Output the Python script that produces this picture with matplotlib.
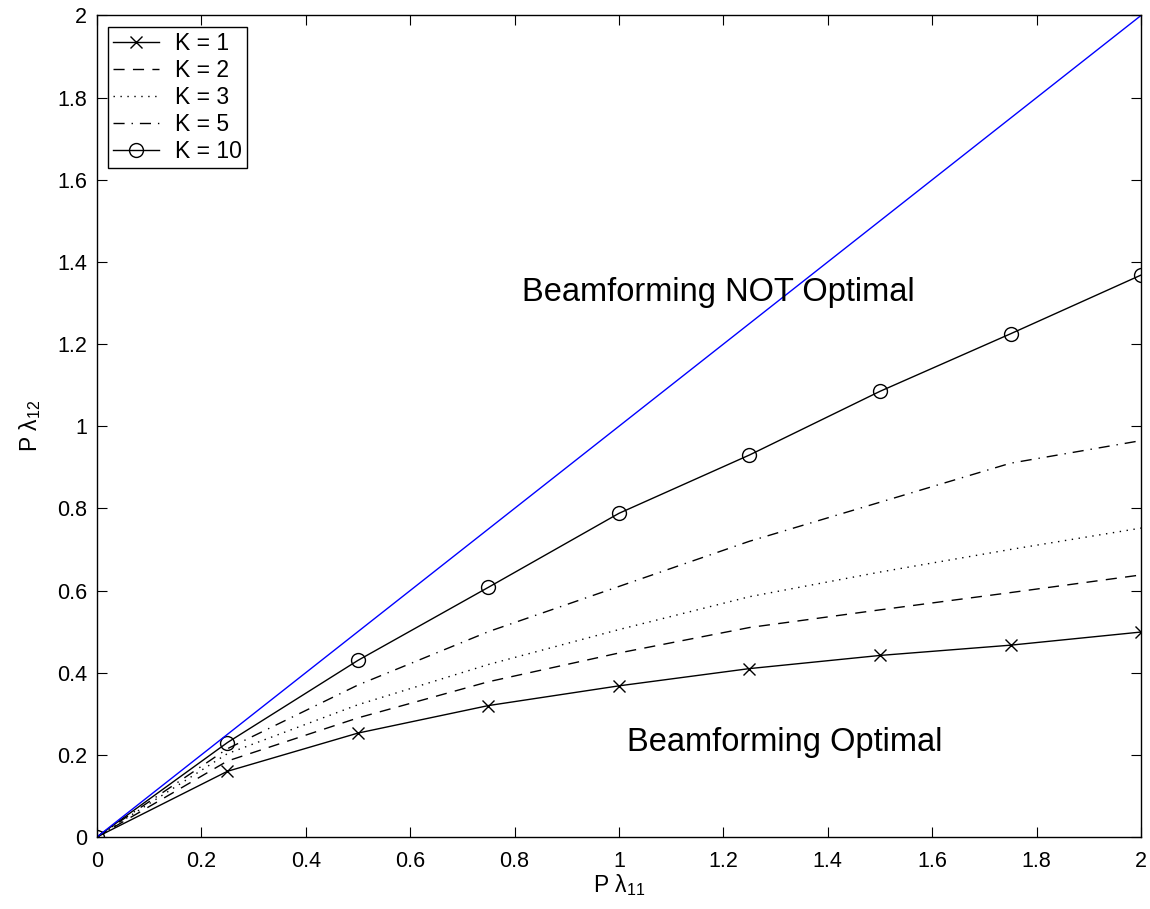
import matplotlib
matplotlib.use("Agg")
import matplotlib.pyplot as plt

plt.rcParams["font.family"] = ["Liberation Sans", "DejaVu Sans"]
plt.rcParams["mathtext.fontset"] = "custom"
plt.rcParams["mathtext.rm"] = "Liberation Sans"
plt.rcParams["mathtext.it"] = "Liberation Sans"
plt.rcParams["mathtext.default"] = "regular"

# P*lambda_11 sample points
p_l11 = [0, 0.25, 0.5, 0.75, 1.0, 1.25, 1.5, 1.75, 2.0]

# boundary P*lambda_12 for each K
k1 = [0, 0.160, 0.253, 0.320, 0.368, 0.410, 0.442, 0.467, 0.499]
k2 = [0, 0.185, 0.290, 0.378, 0.448, 0.510, 0.553, 0.595, 0.638]
k3 = [0, 0.203, 0.322, 0.420, 0.505, 0.585, 0.645, 0.700, 0.752]
k5 = [0, 0.215, 0.370, 0.500, 0.610, 0.720, 0.815, 0.910, 0.965]
k10 = [0, 0.230, 0.430, 0.608, 0.788, 0.930, 1.085, 1.225, 1.368]

diag_x = [0, 2]
diag_y = [0, 2]

ticks = [0, 0.2, 0.4, 0.6, 0.8, 1, 1.2, 1.4, 1.6, 1.8, 2]
tick_labels = ["0", "0.2", "0.4", "0.6", "0.8", "1", "1.2", "1.4", "1.6", "1.8", "2"]

fig = plt.figure(figsize=(11.5, 9.09), dpi=100)
ax = fig.add_axes([0.0843, 0.0792, 0.9079, 0.9038])

ax.plot(p_l11, k1, color="black", lw=1, marker="x", ms=9, mew=1, label="K = 1")
ax.plot(p_l11, k2, color="black", lw=1, ls=(0, (8, 6)), label="K = 2")
ax.plot(p_l11, k3, color="black", lw=1, ls=(0, (1, 4)), label="K = 3")
ax.plot(p_l11, k5, color="black", lw=1, ls=(0, (8, 5, 1, 5)), label="K = 5")
ax.plot(p_l11, k10, color="black", lw=1, marker="o", ms=10, mfc="none", mew=1,
        label="K = 10")
ax.plot(diag_x, diag_y, color="blue", lw=1)

ax.text(0.815, 1.325, "Beamforming NOT Optimal", fontsize=23.5, va="center")
ax.text(1.015, 0.23, "Beamforming Optimal", fontsize=23.5, va="center")

ax.set_xlim(0, 2)
ax.set_ylim(0, 2)
ax.set_xticks(ticks)
ax.set_xticklabels(tick_labels)
ax.set_yticks(ticks)
ax.set_yticklabels(tick_labels)
ax.tick_params(direction="in", top=True, right=True, length=7, labelsize=15.5)
ax.tick_params(axis="x", pad=10)
ax.tick_params(axis="y", pad=7)
for s in ax.spines.values():
    s.set_linewidth(1)

ax.set_xlabel(r"P λ$_{11}$", fontsize=16.5, labelpad=0)
ax.set_ylabel(r"P λ$_{12}$", fontsize=16.5, labelpad=10)

leg = ax.legend(loc="upper left", fontsize=16.5, fancybox=False, edgecolor="black",
                framealpha=1, handlelength=2.0, borderaxespad=0.5, borderpad=0.22,
                labelspacing=0.18, handletextpad=0.7)
leg.get_frame().set_linewidth(1)

fig.savefig("out.png", dpi=100)
